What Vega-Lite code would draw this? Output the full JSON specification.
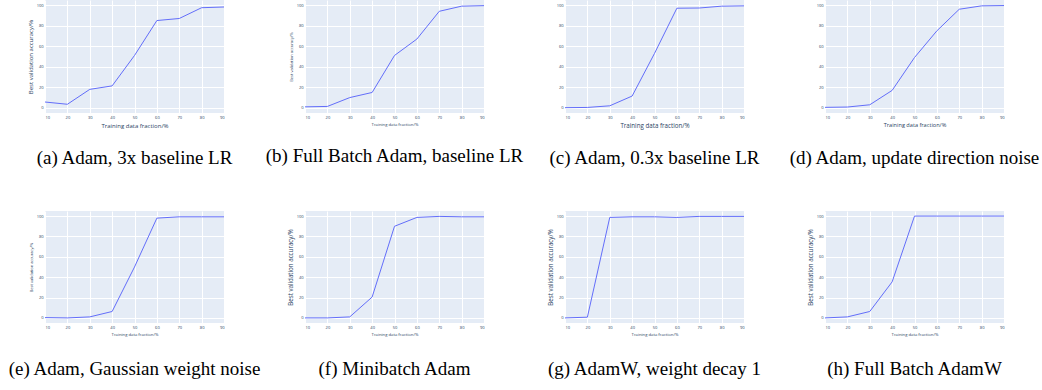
{
  "$schema": "https://vega.github.io/schema/vega-lite/v6.json",
  "background": "white",
  "padding": {"left": 8, "top": 0, "right": 5, "bottom": 5},
  "datasets": {
    "acc": [
      {"panel": "a", "frac": 10, "acc": 5.7}, {"panel": "a", "frac": 20, "acc": 3.5}, {"panel": "a", "frac": 30, "acc": 18}, {"panel": "a", "frac": 40, "acc": 21.4}, {"panel": "a", "frac": 50, "acc": 51}, {"panel": "a", "frac": 60, "acc": 85}, {"panel": "a", "frac": 70, "acc": 87}, {"panel": "a", "frac": 80, "acc": 97.5}, {"panel": "a", "frac": 90, "acc": 98.2},
      {"panel": "b", "frac": 10, "acc": 1}, {"panel": "b", "frac": 20, "acc": 1.4}, {"panel": "b", "frac": 30, "acc": 10}, {"panel": "b", "frac": 40, "acc": 15}, {"panel": "b", "frac": 50, "acc": 51}, {"panel": "b", "frac": 60, "acc": 67}, {"panel": "b", "frac": 70, "acc": 94}, {"panel": "b", "frac": 80, "acc": 99}, {"panel": "b", "frac": 90, "acc": 99.5},
      {"panel": "c", "frac": 10, "acc": 0.2}, {"panel": "c", "frac": 20, "acc": 0.4}, {"panel": "c", "frac": 30, "acc": 2}, {"panel": "c", "frac": 40, "acc": 11.5}, {"panel": "c", "frac": 50, "acc": 53}, {"panel": "c", "frac": 60, "acc": 97}, {"panel": "c", "frac": 70, "acc": 97.2}, {"panel": "c", "frac": 80, "acc": 99}, {"panel": "c", "frac": 90, "acc": 99.3},
      {"panel": "d", "frac": 10, "acc": 0.5}, {"panel": "d", "frac": 20, "acc": 0.8}, {"panel": "d", "frac": 30, "acc": 3}, {"panel": "d", "frac": 40, "acc": 17}, {"panel": "d", "frac": 50, "acc": 49}, {"panel": "d", "frac": 60, "acc": 75}, {"panel": "d", "frac": 70, "acc": 96}, {"panel": "d", "frac": 80, "acc": 99.3}, {"panel": "d", "frac": 90, "acc": 99.6},
      {"panel": "e", "frac": 10, "acc": 0.3}, {"panel": "e", "frac": 20, "acc": 0}, {"panel": "e", "frac": 30, "acc": 1}, {"panel": "e", "frac": 40, "acc": 6.3}, {"panel": "e", "frac": 50, "acc": 50}, {"panel": "e", "frac": 60, "acc": 98}, {"panel": "e", "frac": 70, "acc": 99.3}, {"panel": "e", "frac": 80, "acc": 99.3}, {"panel": "e", "frac": 90, "acc": 99.3},
      {"panel": "f", "frac": 10, "acc": 0}, {"panel": "f", "frac": 20, "acc": 0}, {"panel": "f", "frac": 30, "acc": 1}, {"panel": "f", "frac": 40, "acc": 20.5}, {"panel": "f", "frac": 50, "acc": 90}, {"panel": "f", "frac": 60, "acc": 98.7}, {"panel": "f", "frac": 70, "acc": 99.7}, {"panel": "f", "frac": 80, "acc": 99.3}, {"panel": "f", "frac": 90, "acc": 99.3},
      {"panel": "g", "frac": 10, "acc": 0}, {"panel": "g", "frac": 20, "acc": 0.7}, {"panel": "g", "frac": 30, "acc": 98.7}, {"panel": "g", "frac": 40, "acc": 99.3}, {"panel": "g", "frac": 50, "acc": 99.3}, {"panel": "g", "frac": 60, "acc": 98.7}, {"panel": "g", "frac": 70, "acc": 99.7}, {"panel": "g", "frac": 80, "acc": 99.7}, {"panel": "g", "frac": 90, "acc": 99.7},
      {"panel": "h", "frac": 10, "acc": 0}, {"panel": "h", "frac": 20, "acc": 1}, {"panel": "h", "frac": 30, "acc": 6.3}, {"panel": "h", "frac": 40, "acc": 35.4}, {"panel": "h", "frac": 50, "acc": 100}, {"panel": "h", "frac": 60, "acc": 100}, {"panel": "h", "frac": 70, "acc": 100}, {"panel": "h", "frac": 80, "acc": 100}, {"panel": "h", "frac": 90, "acc": 100}
    ]
  },
  "columns": 4,
  "bounds": "flush",
  "spacing": {"row": 98, "column": 81},
  "concat": [
    {"width": 179, "height": 113, "data": {"name": "acc"}, "transform": [{"filter": "datum.panel == 'a'"}],
     "title": {"text": "(a) Adam, 3x baseline LR", "offset": 21},
     "mark": {"type": "line", "color": "#636EFA", "strokeWidth": 1},
     "encoding": {
       "x": {"field": "frac", "type": "quantitative", "scale": {"domain": [10, 90], "nice": false, "zero": false}, "axis": {"values": [10, 20, 30, 40, 50, 60, 70, 80, 90], "title": "Training data fraction/%", "titleFontSize": 6}},
       "y": {"field": "acc", "type": "quantitative", "scale": {"domain": [-5, 105], "nice": false}, "axis": {"values": [0, 20, 40, 60, 80, 100], "title": "Best validation accuracy/%", "titleFontSize": 6}}}},
    {"width": 179, "height": 113, "data": {"name": "acc"}, "transform": [{"filter": "datum.panel == 'b'"}],
     "title": {"text": "(b) Full Batch Adam, baseline LR", "offset": 21},
     "mark": {"type": "line", "color": "#636EFA", "strokeWidth": 1},
     "encoding": {
       "x": {"field": "frac", "type": "quantitative", "scale": {"domain": [10, 90], "nice": false, "zero": false}, "axis": {"values": [10, 20, 30, 40, 50, 60, 70, 80, 90], "title": "Training data fraction/%", "titleFontSize": 4.2}},
       "y": {"field": "acc", "type": "quantitative", "scale": {"domain": [-5, 105], "nice": false}, "axis": {"values": [0, 20, 40, 60, 80, 100], "title": "Best validation accuracy/%", "titleFontSize": 4}}}},
    {"width": 179, "height": 113, "data": {"name": "acc"}, "transform": [{"filter": "datum.panel == 'c'"}],
     "title": {"text": "(c) Adam, 0.3x baseline LR", "offset": 21},
     "mark": {"type": "line", "color": "#636EFA", "strokeWidth": 1},
     "encoding": {
       "x": {"field": "frac", "type": "quantitative", "scale": {"domain": [10, 90], "nice": false, "zero": false}, "axis": {"values": [10, 20, 30, 40, 50, 60, 70, 80, 90], "title": "Training data fraction/%", "titleFontSize": 6.2}},
       "y": {"field": "acc", "type": "quantitative", "scale": {"domain": [-5, 105], "nice": false}, "axis": {"values": [0, 20, 40, 60, 80, 100], "title": null}}}},
    {"width": 179, "height": 113, "data": {"name": "acc"}, "transform": [{"filter": "datum.panel == 'd'"}],
     "title": {"text": "(d) Adam, update direction noise", "offset": 21},
     "mark": {"type": "line", "color": "#636EFA", "strokeWidth": 1},
     "encoding": {
       "x": {"field": "frac", "type": "quantitative", "scale": {"domain": [10, 90], "nice": false, "zero": false}, "axis": {"values": [10, 20, 30, 40, 50, 60, 70, 80, 90], "title": "Training data fraction/%", "titleFontSize": 5.6}},
       "y": {"field": "acc", "type": "quantitative", "scale": {"domain": [-5, 105], "nice": false}, "axis": {"values": [0, 20, 40, 60, 80, 100], "title": null}}}},
    {"width": 179, "height": 112, "data": {"name": "acc"}, "transform": [{"filter": "datum.panel == 'e'"}],
     "title": {"text": "(e) Adam, Gaussian weight noise", "offset": 24},
     "mark": {"type": "line", "color": "#636EFA", "strokeWidth": 1},
     "encoding": {
       "x": {"field": "frac", "type": "quantitative", "scale": {"domain": [10, 90], "nice": false, "zero": false}, "axis": {"values": [10, 20, 30, 40, 50, 60, 70, 80, 90], "title": "Training data fraction/%", "titleFontSize": 4.2}},
       "y": {"field": "acc", "type": "quantitative", "scale": {"domain": [-5, 105], "nice": false}, "axis": {"values": [0, 20, 40, 60, 80, 100], "title": "Best validation accuracy/%", "titleFontSize": 4}}}},
    {"width": 179, "height": 112, "data": {"name": "acc"}, "transform": [{"filter": "datum.panel == 'f'"}],
     "title": {"text": "(f) Minibatch Adam", "offset": 24},
     "mark": {"type": "line", "color": "#636EFA", "strokeWidth": 1},
     "encoding": {
       "x": {"field": "frac", "type": "quantitative", "scale": {"domain": [10, 90], "nice": false, "zero": false}, "axis": {"values": [10, 20, 30, 40, 50, 60, 70, 80, 90], "title": "Training data fraction/%", "titleFontSize": 4.2}},
       "y": {"field": "acc", "type": "quantitative", "scale": {"domain": [-5, 105], "nice": false}, "axis": {"values": [0, 20, 40, 60, 80, 100], "title": "Best validation accuracy/%", "titleFontSize": 6.2}}}},
    {"width": 179, "height": 112, "data": {"name": "acc"}, "transform": [{"filter": "datum.panel == 'g'"}],
     "title": {"text": "(g) AdamW, weight decay 1", "offset": 24},
     "mark": {"type": "line", "color": "#636EFA", "strokeWidth": 1},
     "encoding": {
       "x": {"field": "frac", "type": "quantitative", "scale": {"domain": [10, 90], "nice": false, "zero": false}, "axis": {"values": [10, 20, 30, 40, 50, 60, 70, 80, 90], "title": "Training data fraction/%", "titleFontSize": 4.2}},
       "y": {"field": "acc", "type": "quantitative", "scale": {"domain": [-5, 105], "nice": false}, "axis": {"values": [0, 20, 40, 60, 80, 100], "title": "Best validation accuracy/%", "titleFontSize": 6.2}}}},
    {"width": 179, "height": 112, "data": {"name": "acc"}, "transform": [{"filter": "datum.panel == 'h'"}],
     "title": {"text": "(h) Full Batch AdamW", "offset": 24},
     "mark": {"type": "line", "color": "#636EFA", "strokeWidth": 1},
     "encoding": {
       "x": {"field": "frac", "type": "quantitative", "scale": {"domain": [10, 90], "nice": false, "zero": false}, "axis": {"values": [10, 20, 30, 40, 50, 60, 70, 80, 90], "title": "Training data fraction/%", "titleFontSize": 4.2}},
       "y": {"field": "acc", "type": "quantitative", "scale": {"domain": [-5, 105], "nice": false}, "axis": {"values": [0, 20, 40, 60, 80, 100], "title": "Best validation accuracy/%", "titleFontSize": 6.2}}}}
  ],
  "config": {
    "view": {"fill": "#E5ECF6", "stroke": null},
    "title": {"orient": "bottom", "anchor": "middle", "frame": "group", "font": "Liberation Serif", "fontSize": 19, "fontWeight": "normal", "color": "#000000"},
    "axis": {"domain": false, "ticks": false, "grid": true, "gridColor": "#FFFFFF", "gridWidth": 1, "labelFontSize": 4, "labelColor": "#2a3f5f", "labelPadding": 2, "labelOverlap": false, "labelFont": "Open Sans", "titleFont": "Open Sans", "titleFontWeight": "normal", "titleColor": "#2a3f5f", "titlePadding": 3}
  }
}
